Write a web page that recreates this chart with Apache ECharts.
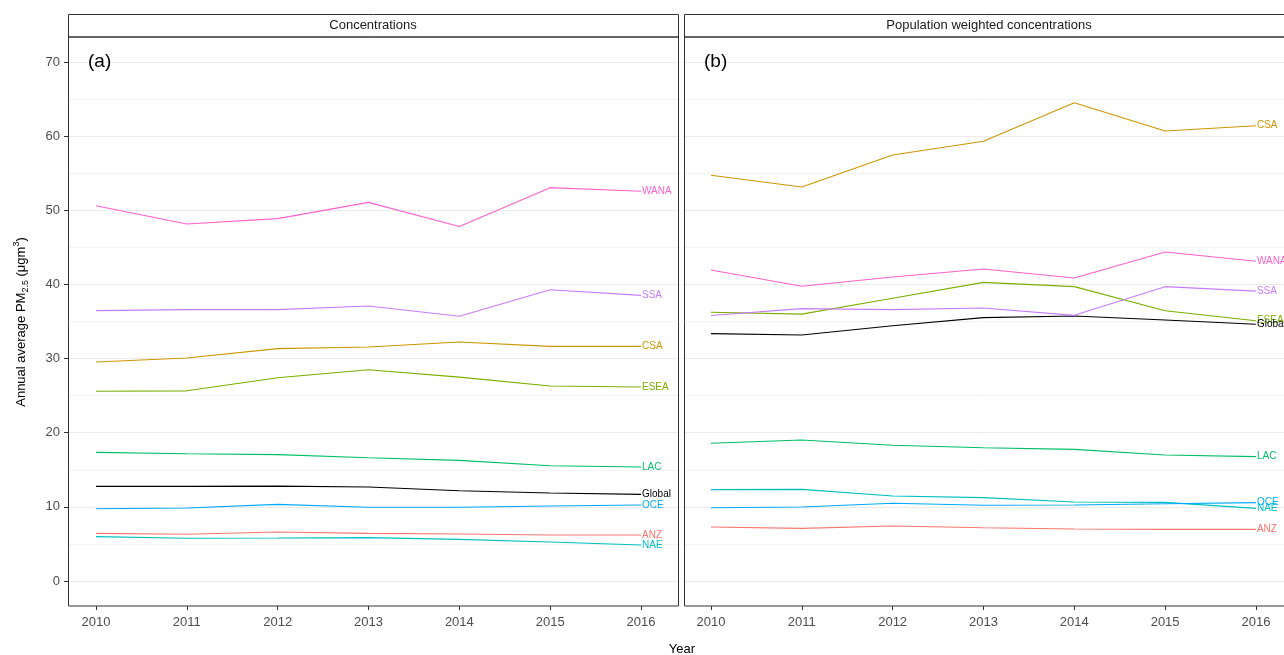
<!DOCTYPE html>
<html>
<head>
<meta charset="utf-8">
<script src="https://cdn.jsdelivr.net/npm/echarts@6/dist/echarts.min.js"></script>
<style>
  html, body { margin: 0; padding: 0; background: #fff; }
  #chart-container { width: 1284px; height: 655px; }
</style>
</head>
<body>
<div id="chart-container"></div>
<script>
// Datos
const years = [2010, 2011, 2012, 2013, 2014, 2015, 2016];
const yTicks = [0, 10, 20, 30, 40, 50, 60, 70];
const yMinorTicks = [5, 15, 25, 35, 45, 55, 65];
const regions = ['ANZ', 'CSA', 'ESEA', 'Global', 'LAC', 'NAE', 'OCE', 'SSA', 'WANA'];
const regionColors = ['#F8766D', '#CD9600', '#7CAE00', '#000000', '#00BE67', '#00BFC4', '#00A9FF', '#C77CFF', '#FF61CC'];

// (a) Concentrations
const concANZ = [6.43, 6.30, 6.61, 6.43, 6.35, 6.20, 6.20];
const concCSA = [29.54, 30.08, 31.34, 31.56, 32.24, 31.65, 31.65];
const concESEA = [25.60, 25.65, 27.42, 28.50, 27.50, 26.30, 26.17];
const concGlobal = [12.77, 12.77, 12.80, 12.68, 12.18, 11.87, 11.69];
const concLAC = [17.35, 17.17, 17.04, 16.63, 16.27, 15.55, 15.38];
const concNAE = [5.98, 5.76, 5.80, 5.85, 5.62, 5.26, 4.86];
const concOCE = [9.75, 9.85, 10.34, 9.94, 9.94, 10.12, 10.25];
const concSSA = [36.46, 36.60, 36.60, 37.09, 35.70, 39.29, 38.53];
const concWANA = [50.60, 48.15, 48.87, 51.07, 47.80, 53.05, 52.56];

// (b) Population weighted concentrations
const popANZ = [7.28, 7.10, 7.42, 7.19, 7.01, 6.97, 6.97];
const popCSA = [54.72, 53.14, 57.46, 59.30, 64.50, 60.70, 61.41];
const popESEA = [36.24, 36.00, 38.13, 40.28, 39.70, 36.46, 35.11];
const popGlobal = [33.36, 33.18, 34.43, 35.52, 35.74, 35.20, 34.62];
const popLAC = [18.57, 19.02, 18.30, 17.98, 17.76, 17.00, 16.77];
const popNAE = [12.32, 12.36, 11.46, 11.24, 10.66, 10.61, 9.80];
const popOCE = [9.89, 9.98, 10.48, 10.21, 10.25, 10.43, 10.57];
const popSSA = [35.80, 36.74, 36.60, 36.82, 35.83, 39.70, 39.10];
const popWANA = [41.95, 39.75, 41.00, 42.08, 40.87, 44.38, 43.12];

const concData = [concANZ, concCSA, concESEA, concGlobal, concLAC, concNAE, concOCE, concSSA, concWANA];
const popData = [popANZ, popCSA, popESEA, popGlobal, popLAC, popNAE, popOCE, popSSA, popWANA];

const font = 'Liberation Sans, Arial, sans-serif';
const yMin = -3.37, yMax = 73.37;
// el panel (b) queda cortado por el borde derecho de la imagen
const xMinA = 2009.692, xMaxA = 2016.407;
const xMinB = 2009.692, xMaxB = 2016.309;

function makeSeries(values, panel) {
    return regions.map((name, i) => ({
        name: name,
        type: 'line',
        xAxisIndex: panel,
        yAxisIndex: panel * 2,
        symbol: 'none',
        silent: true,
        lineStyle: { color: regionColors[i], width: 1.1 },
        itemStyle: { color: regionColors[i] },
        data: years.map((y, j) => [y, values[i][j]]),
        endLabel: {
            show: true,
            formatter: name,
            color: regionColors[i],
            fontSize: 10,
            fontFamily: font,
            distance: 1
        }
    }));
}

function makeXAxis(gridIndex, min, max) {
    return {
        type: 'value',
        gridIndex: gridIndex,
        position: 'bottom',
        min: min,
        max: max,
        axisLine: { show: false, onZero: false },
        axisTick: { show: true, length: 4, lineStyle: { color: '#333' }, customValues: years },
        axisLabel: {
            show: true, customValues: years, color: '#4d4d4d', fontSize: 13, fontFamily: font, margin: 10,
            formatter: v => String(v)
        },
        splitLine: { show: false }
    };
}

function makeYAxes(gridIndex, showLabels) {
    return [{
        type: 'value',
        gridIndex: gridIndex,
        min: yMin,
        max: yMax,
        axisLine: { show: false, onZero: false },
        axisTick: { show: showLabels, length: 4, lineStyle: { color: '#333' }, customValues: yTicks },
        axisLabel: { show: showLabels, customValues: yTicks, color: '#4d4d4d', fontSize: 13, fontFamily: font, margin: 8 },
        splitLine: { show: true, lineStyle: { color: '#ebebeb', width: 1 } }
    }, {
        type: 'value',
        gridIndex: gridIndex,
        position: 'right',
        min: yMin,
        max: yMax,
        axisLine: { show: false, onZero: false },
        axisTick: { show: false, customValues: yMinorTicks },
        axisLabel: { show: false, customValues: yMinorTicks },
        splitLine: { show: true, lineStyle: { color: '#f2f2f2', width: 1 } }
    }];
}

function panelFrame(x, w, title, tag) {
    return [
        { type: 'rect', z: 100, shape: { x: x + 0.5, y: 14.5, width: w, height: 22.5 }, style: { fill: '#fff', stroke: '#333', lineWidth: 1 } },
        { type: 'text', z: 101, x: x + w / 2, y: 25.5, style: { text: title, fill: '#1a1a1a', fontSize: 13, fontFamily: font, align: 'center', verticalAlign: 'middle' } },
        { type: 'rect', z: 100, shape: { x: x + 0.5, y: 37, width: w, height: 569 }, style: { fill: 'none', stroke: '#333', lineWidth: 1 } },
        { type: 'text', z: 101, x: x + 20, y: 62, style: { text: tag, fill: '#000', fontSize: 19, fontFamily: font, align: 'left', verticalAlign: 'middle' } }
    ];
}

function initChart() {
    const chartDom = document.getElementById('chart-container');
    const myChart = echarts.init(chartDom, null, { renderer: 'canvas' });

    const option = {
        animation: false,
        backgroundColor: '#fff',
        grid: [
            { left: 68, top: 37, width: 610, height: 569 },
            { left: 683, top: 37, right: 0, height: 569 }
        ],
        xAxis: [makeXAxis(0, xMinA, xMaxA), makeXAxis(1, xMinB, xMaxB)],
        yAxis: makeYAxes(0, true).concat(makeYAxes(1, false)),
        series: makeSeries(concData, 0).concat(makeSeries(popData, 1)),
        graphic: [
            ...panelFrame(68, 610, 'Concentrations', '(a)'),
            ...panelFrame(684, 610, 'Population weighted concentrations', '(b)'),
            { type: 'text', x: 682, y: 649, style: { text: 'Year', fill: '#000', fontSize: 13, fontFamily: font, align: 'center', verticalAlign: 'middle' } },
            {
                type: 'text', x: 21, y: 322, rotation: Math.PI / 2,
                style: {
                    text: '{n|Annual average PM}{sub|2.5}{n| (μgm}{sup|3}{n|)}',
                    fill: '#000', fontFamily: font, align: 'center', verticalAlign: 'middle',
                    rich: {
                        n: { fontSize: 13, fontFamily: font, lineHeight: 18, verticalAlign: 'middle' },
                        sub: { fontSize: 9, fontFamily: font, lineHeight: 18, verticalAlign: 'bottom', padding: [6, 0, 0, 0] },
                        sup: { fontSize: 9, fontFamily: font, lineHeight: 18, verticalAlign: 'top', padding: [0, 0, 6, 0] }
                    }
                }
            }
        ]
    };

    myChart.setOption(option);
}

initChart();
</script>
</body>
</html>
